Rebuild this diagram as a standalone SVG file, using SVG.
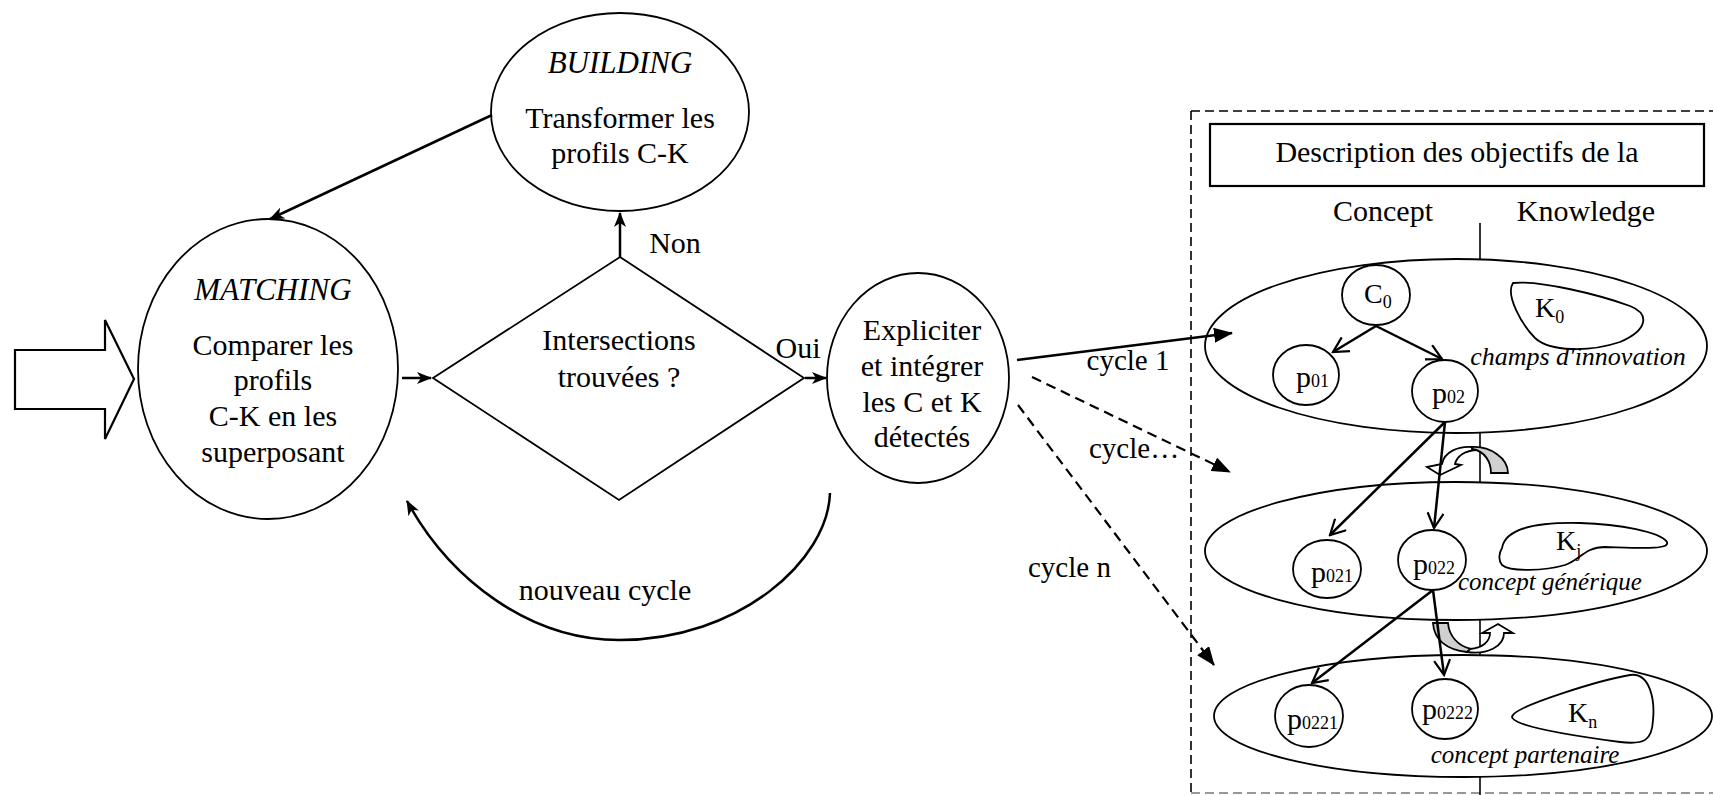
<svg xmlns="http://www.w3.org/2000/svg" width="1713" height="795" viewBox="0 0 1713 795">
<style>
.t{font-family:"Liberation Serif","Times New Roman",serif;font-size:30px;fill:#000;text-anchor:middle}
.s{text-anchor:start}
.i{font-style:italic}
.sm{font-size:18px}
.shp{fill:#fff;stroke:#000;stroke-width:1.8}
.ln{fill:none;stroke:#000;stroke-width:2.5}
.dl{fill:none;stroke:#000;stroke-width:2.2;stroke-dasharray:10 6}
.bx{fill:none;stroke:#000;stroke-width:1.6;stroke-dasharray:9 5}
</style>
<defs>
<marker id="st" markerUnits="userSpaceOnUse" markerWidth="16" markerHeight="12" viewBox="0 0 16 12" refX="14" refY="6" orient="auto"><path d="M0,0 L15,6 L0,12 L4,6 Z" fill="#000"/></marker>
<marker id="tri" markerUnits="userSpaceOnUse" markerWidth="19" markerHeight="15" viewBox="0 0 19 15" refX="18" refY="7.5" orient="auto"><path d="M0,0 L19,7.5 L0,15 Z" fill="#000"/></marker>
<marker id="vee" markerUnits="userSpaceOnUse" markerWidth="18" markerHeight="18" viewBox="0 0 18 18" refX="16" refY="9" orient="auto"><path d="M1,1 L16,9 L1,17" fill="none" stroke="#000" stroke-width="2.2"/></marker>
</defs>

<!-- dashed frame -->
<g id="frame">
<line x1="1191" y1="111" x2="1713" y2="111" class="bx"/>
<line x1="1191" y1="111" x2="1191" y2="795" class="bx"/>
<line x1="1191" y1="793" x2="1713" y2="793" class="bx" style="stroke:#777"/>
</g>

<!-- input block arrow -->
<g id="input">
<polygon points="15,350 105,350 105,320 134,379 105,439 105,409 15,409" fill="#fff" stroke="#000" stroke-width="2.2"/>
</g>

<g id="building">
<ellipse cx="620" cy="112" rx="129" ry="99" class="shp"/>
<text x="620" y="73" class="t i" style="font-size:31px">BUILDING</text>
<text x="620" y="128" class="t">Transformer les</text>
<text x="620" y="163" class="t">profils C-K</text>
</g>

<g id="matching">
<ellipse cx="268" cy="369" rx="130" ry="150" class="shp"/>
<text x="273" y="300" class="t i" style="font-size:31px">MATCHING</text>
<text x="273" y="355" class="t">Comparer les</text>
<text x="273" y="390" class="t">profils</text>
<text x="273" y="426" class="t">C-K en les</text>
<text x="273" y="462" class="t">superposant</text>
</g>

<g id="decision">
<polygon points="620,257 804,378 619,500 433,378" class="shp"/>
<text x="619" y="350" class="t">Intersections</text>
<text x="619" y="387" class="t">trouvées ?</text>
</g>

<g id="expliciter">
<ellipse cx="918" cy="378" rx="91" ry="105" class="shp"/>
<text x="922" y="340" class="t">Expliciter</text>
<text x="922" y="376" class="t">et intégrer</text>
<text x="922" y="412" class="t">les C et K</text>
<text x="922" y="447" class="t">détectés</text>
</g>

<!-- right panel -->
<g id="title">
<rect x="1210" y="124" width="494" height="62" fill="#fff" stroke="#000" stroke-width="2.2"/>
<text x="1457" y="162" class="t">Description des objectifs de la</text>
</g>
<g id="headers">
<text x="1383" y="221" class="t">Concept</text>
<text x="1586" y="221" class="t">Knowledge</text>
<line x1="1480" y1="223" x2="1480" y2="795" stroke="#000" stroke-width="1.6"/>
</g>

<g id="level1">
<ellipse cx="1456" cy="346" rx="251" ry="87" class="shp"/>
<path d="M1513,283 C1540,280 1600,295 1630,306 C1650,314 1648,330 1620,342 C1590,352 1550,352 1535,338 C1522,325 1505,295 1513,283 Z" class="shp"/>
<text x="1535" y="317" class="t s" style="font-size:28px">K<tspan class="sm" dy="6">0</tspan></text>
<text x="1578" y="365" class="t i" style="font-size:26px">champs d'innovation</text>
</g>
<g id="c0">
<ellipse cx="1376" cy="295" rx="34" ry="30" class="shp"/>
<text x="1364" y="303" class="t s" style="font-size:28px">C<tspan class="sm" dy="5">0</tspan></text>
</g>
<g id="p01">
<ellipse cx="1306" cy="375" rx="33" ry="30" class="shp"/>
<text x="1296" y="387" class="t s">p<tspan class="sm">01</tspan></text>
</g>
<g id="p02">
<ellipse cx="1445" cy="391" rx="33" ry="31" class="shp"/>
<text x="1432" y="403" class="t s">p<tspan class="sm">02</tspan></text>
</g>

<g id="level2">
<ellipse cx="1456" cy="551" rx="251" ry="69" class="shp"/>
<path d="M1502,548 C1505,530 1530,522 1580,523 C1620,524 1660,532 1667,542 C1670,550 1640,548 1605,547 C1585,547 1580,560 1565,565 C1545,571 1510,572 1502,565 C1498,560 1499,553 1502,548 Z" class="shp"/>
<text x="1556" y="550" class="t s" style="font-size:28px">K<tspan class="sm" dy="7">j</tspan></text>
<text x="1550" y="590" class="t i" style="font-size:25px">concept générique</text>
</g>
<g id="p021">
<ellipse cx="1327" cy="569" rx="34" ry="29" class="shp"/>
<text x="1311" y="582" class="t s">p<tspan class="sm">021</tspan></text>
</g>
<g id="p022">
<ellipse cx="1432" cy="560" rx="34" ry="30" class="shp"/>
<text x="1413" y="574" class="t s">p<tspan class="sm">022</tspan></text>
</g>

<g id="level3">
<ellipse cx="1463" cy="716" rx="249" ry="61" class="shp"/>
<path d="M1513,715 C1520,705 1600,680 1630,675 C1650,672 1655,700 1653,720 C1652,740 1645,745 1620,742 C1590,738 1535,730 1518,722 C1512,719 1511,717 1513,715 Z" class="shp"/>
<text x="1568" y="722" class="t s" style="font-size:28px">K<tspan class="sm" dy="6">n</tspan></text>
<text x="1525" y="763" class="t i" style="font-size:25px">concept partenaire</text>
</g>
<g id="p0221">
<ellipse cx="1309" cy="716" rx="34" ry="31" class="shp"/>
<text x="1287" y="729" class="t s">p<tspan class="sm">0221</tspan></text>
</g>
<g id="p0222">
<ellipse cx="1445" cy="709" rx="33" ry="30" class="shp"/>
<text x="1422" y="719" class="t s">p<tspan class="sm">0222</tspan></text>
</g>

<!-- curved transition arrows -->
<g id="turn1">
<path d="M1472,447 C1458,446 1444,452 1442,464 L1427,467 L1440,475 L1461,465 L1455,464 C1457,456 1465,451 1476,450 Z" fill="#fff" stroke="#000" stroke-width="1.8"/>
<path d="M1472,447 C1490,446 1508,458 1508,473 L1491,473 C1491,462 1485,451 1472,449 Z" fill="#d0d0d0" stroke="#000" stroke-width="1.8"/>
</g>
<g id="turn2">
<path d="M1433,623 L1448,623 C1449,636 1458,646 1471,649 L1467,652 C1447,650 1434,640 1433,623 Z" fill="#d0d0d0" stroke="#000" stroke-width="1.8"/>
<path d="M1470,649 C1482,648 1490,642 1490,633 L1482,633 L1498,624 L1513,633 L1504,633 C1504,646 1488,655 1467,652 Z" fill="#fff" stroke="#000" stroke-width="1.8"/>
</g>

<g id="connectors">
<line x1="492" y1="115" x2="270" y2="219" class="ln" marker-end="url(#st)"/>
<line x1="402" y1="378" x2="431" y2="378" class="ln" marker-end="url(#st)"/>
<line x1="620" y1="257" x2="620" y2="213" class="ln" marker-end="url(#st)"/>
<line x1="805" y1="378" x2="826" y2="378" class="ln" marker-end="url(#st)"/>
<path d="M830,493 C828,560 740,640 619,640 C530,640 450,580 407,501" class="ln" marker-end="url(#st)"/>
<line x1="1017" y1="360" x2="1232" y2="333" class="ln" stroke-width="2.8" marker-end="url(#tri)"/>
<line x1="1032" y1="377" x2="1230" y2="472" class="dl" marker-end="url(#tri)"/>
<line x1="1018" y1="405" x2="1214" y2="665" class="dl" marker-end="url(#tri)"/>
<line x1="1376" y1="326" x2="1333" y2="352" class="ln" marker-end="url(#vee)"/>
<line x1="1376" y1="326" x2="1442" y2="359" class="ln" marker-end="url(#vee)"/>
<line x1="1445" y1="422" x2="1330" y2="535" class="ln" marker-end="url(#vee)"/>
<line x1="1445" y1="422" x2="1434" y2="528" class="ln" marker-end="url(#vee)"/>
<line x1="1433" y1="590" x2="1312" y2="683" class="ln" marker-end="url(#vee)"/>
<line x1="1433" y1="590" x2="1444" y2="675" class="ln" marker-end="url(#vee)"/>
</g>

<g id="labels">
<text x="675" y="253" class="t">Non</text>
<text x="798" y="358" class="t">Oui</text>
<text x="605" y="600" class="t">nouveau cycle</text>
<text x="1128" y="370" class="t" style="font-size:29px">cycle 1</text>
<text x="1089" y="458" class="t s" style="font-size:29px">cycle…</text>
<text x="1028" y="577" class="t s" style="font-size:29px">cycle n</text>
</g>
</svg>
